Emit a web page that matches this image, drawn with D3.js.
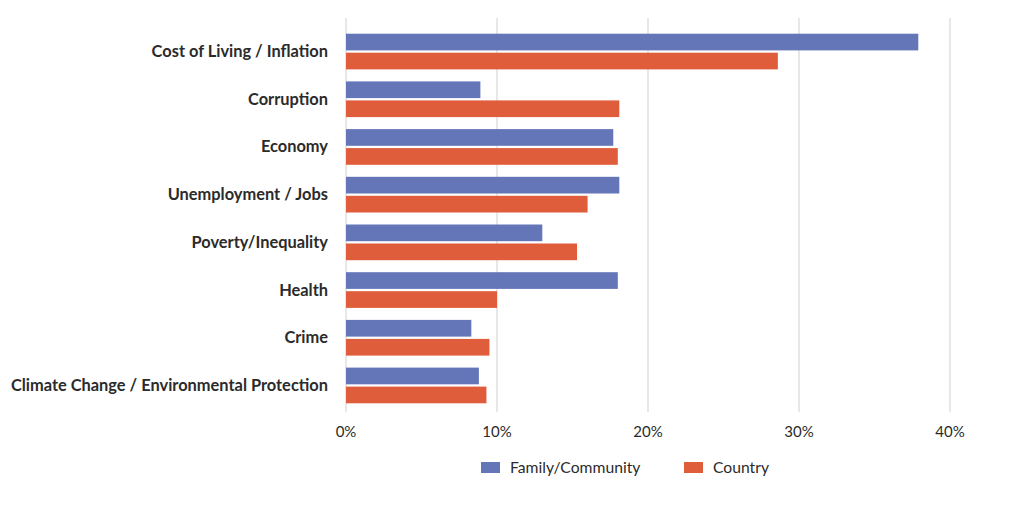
<!DOCTYPE html>
<html><head><meta charset="utf-8">
<script src="https://cdn.jsdelivr.net/npm/d3@7"></script>
<style>body{margin:0;background:#fff;}svg{display:block;}</style>
</head><body><svg id="c" width="1024" height="515"></svg>
<script>
const categories = ["Cost of Living / Inflation","Corruption","Economy","Unemployment / Jobs","Poverty/Inequality","Health","Crime","Climate Change / Environmental Protection"];
const familyValues = [37.9, 8.9, 17.7, 18.1, 13.0, 18.0, 8.3, 8.8];
const countryValues = [28.6, 18.1, 18.0, 16.0, 15.3, 10.0, 9.5, 9.3];
const seriesNames = ["Family/Community", "Country"];
const tickValues = [0, 10, 20, 30, 40];

const colors = ["#6476B8", "#E05D3C"];
const svg = d3.select("#c");
const x = d3.scaleLinear().domain([0, 40]).range([346, 950]);
const y = d3.scaleBand().domain(categories).range([27.7, 409.3]);
const barH = 16.7, gap = 2.3;

// gridlines
svg.append("g").selectAll("line").data(tickValues).join("line")
  .attr("x1", d => x(d)).attr("x2", d => x(d))
  .attr("y1", 18).attr("y2", 412)
  .attr("stroke", "#cfcfcf").attr("stroke-width", 1);

const series = [familyValues, countryValues];
series.forEach((vals, si) => {
  svg.append("g").selectAll("rect").data(categories).join("rect")
    .attr("x", x(0))
    .attr("y", (d) => {
      const c = y(d) + y.bandwidth() / 2;
      return si === 0 ? c - gap / 2 - barH : c + gap / 2;
    })
    .attr("width", (d, i) => x(vals[i]) - x(0))
    .attr("height", barH)
    .attr("fill", colors[si]);
});

// category labels
svg.append("g").selectAll("text").data(categories).join("text")
  .attr("x", 328).attr("y", d => y(d) + y.bandwidth() / 2 + 5.5)
  .attr("text-anchor", "end")
  .attr("font-family", "Lato, sans-serif").attr("font-weight", "bold")
  .attr("font-size", 16.4).attr("fill", "#2b2b2b")
  .text(d => d);

// x axis labels
svg.append("g").selectAll("text").data(tickValues).join("text")
  .attr("x", d => x(d)).attr("y", 437)
  .attr("text-anchor", "middle")
  .attr("font-family", "Lato, sans-serif").attr("font-size", 15).attr("fill", "#2b2b2b")
  .text(d => d + "%");

// legend
const legX = [481, 684];
const lg = svg.append("g").selectAll("g").data(seriesNames).join("g");
lg.append("rect").attr("x", (d, i) => legX[i]).attr("y", 462).attr("width", 19).attr("height", 11)
  .attr("fill", (d, i) => colors[i]);
lg.append("text").attr("x", (d, i) => legX[i] + 29).attr("y", 473)
  .attr("font-family", "Lato, sans-serif").attr("font-size", 15.7).attr("fill", "#2b2b2b")
  .text(d => d);
</script></body></html>
